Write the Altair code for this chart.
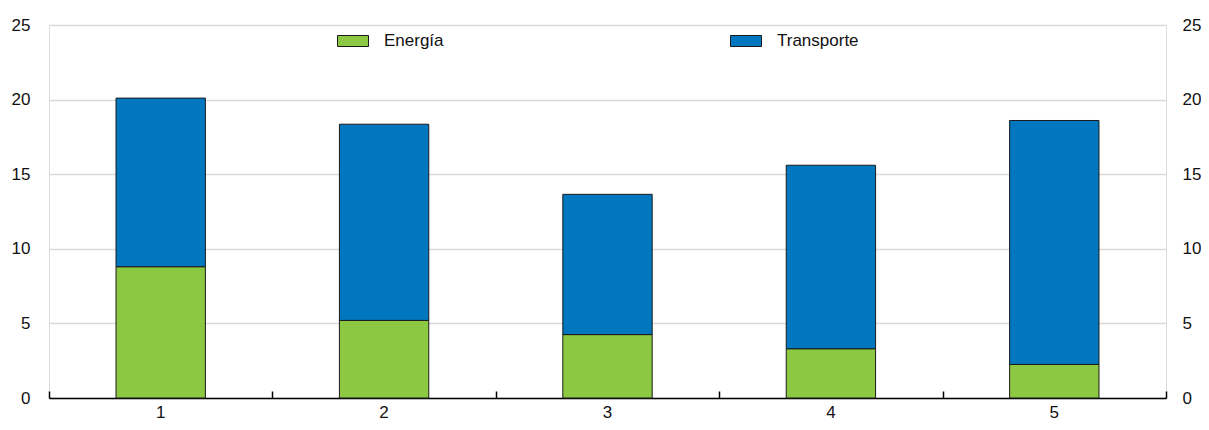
import altair as alt
import pandas as pd

categories = ["1", "2", "3", "4", "5"]
energia = [8.8, 5.2, 4.25, 3.3, 2.25]
transporte = [11.3, 13.15, 9.4, 12.3, 16.35]
series = ["Energía", "Transporte"]
colors = ["#8CC841", "#0077BE"]

rows = []
for c, e, t in zip(categories, energia, transporte):
    rows.append({"cat": c, "serie": series[0], "valor": e, "ord": 0})
    rows.append({"cat": c, "serie": series[1], "valor": t, "ord": 1})
df = pd.DataFrame(rows)
tot = pd.DataFrame({"cat": categories, "total": [e + t for e, t in zip(energia, transporte)]})

FONT = "Liberation Sans"
W, H = 1117, 373

xscale = alt.Scale(paddingInner=0, paddingOuter=0)
yscale = alt.Scale(domain=[0, 25])

bars = alt.Chart(df).mark_bar(
    width=alt.RelativeBandSize(0.4), stroke="#1a1a1a", strokeWidth=1
).encode(
    x=alt.X("cat:N", sort=categories, scale=xscale,
            axis=alt.Axis(orient="bottom", title=None, labelAngle=0, ticks=False,
                          domain=True, domainColor="#000000", domainWidth=1.5,
                          labelFont=FONT, labelFontSize=17, labelColor="#111111",
                          labelPadding=6, grid=False)),
    y=alt.Y("valor:Q", stack="zero", scale=yscale,
            axis=alt.Axis(orient="left", title=None, values=[0, 5, 10, 15, 20, 25],
                          domain=False, ticks=False, grid=True, gridColor="#d9d9d9",
                          gridWidth=1.5, labelFont=FONT, labelFontSize=17,
                          labelColor="#111111", labelPadding=19)),
    color=alt.Color("serie:N", scale=alt.Scale(domain=series, range=colors),
                    legend=alt.Legend(
                        orient="none", legendX=288, legendY=0, direction="horizontal",
                        columns=2, title=None, padding=0, columnPadding=284,
                        symbolType="M-1,-0.355H1V0.355H-1Z", symbolSize=961,
                        symbolStrokeColor="#1a1a1a", symbolStrokeWidth=1,
                        symbolOpacity=1, labelOffset=15,
                        labelFont=FONT, labelFontSize=17, labelColor="#111111")),
    order=alt.Order("ord:Q"),
)

aux = alt.Chart(tot).mark_point(opacity=0).encode(
    x=alt.X("cat:N", sort=categories, scale=xscale,
            axis=alt.Axis(orient="top", offset=-H, title=None, labels=False,
                          domain=False, ticks=True, tickBand="extent", tickSize=7,
                          tickColor="#000000", tickWidth=1.5, grid=False)),
    y=alt.Y("total:Q", scale=yscale,
            axis=alt.Axis(orient="right", title=None, values=[0, 5, 10, 15, 20, 25],
                          domain=False, ticks=False, grid=False,
                          labelFont=FONT, labelFontSize=17, labelColor="#111111",
                          labelPadding=16)),
)

chart = alt.layer(bars, aux).properties(
    width=W, height=H,
    autosize=alt.AutoSizeParams(type="none"),
    padding={"left": 41, "top": 17, "right": 35, "bottom": 24},
).configure_view(stroke=None).configure(background="white")

chart.save("out.html", embed_options={"renderer": "svg", "actions": False})
